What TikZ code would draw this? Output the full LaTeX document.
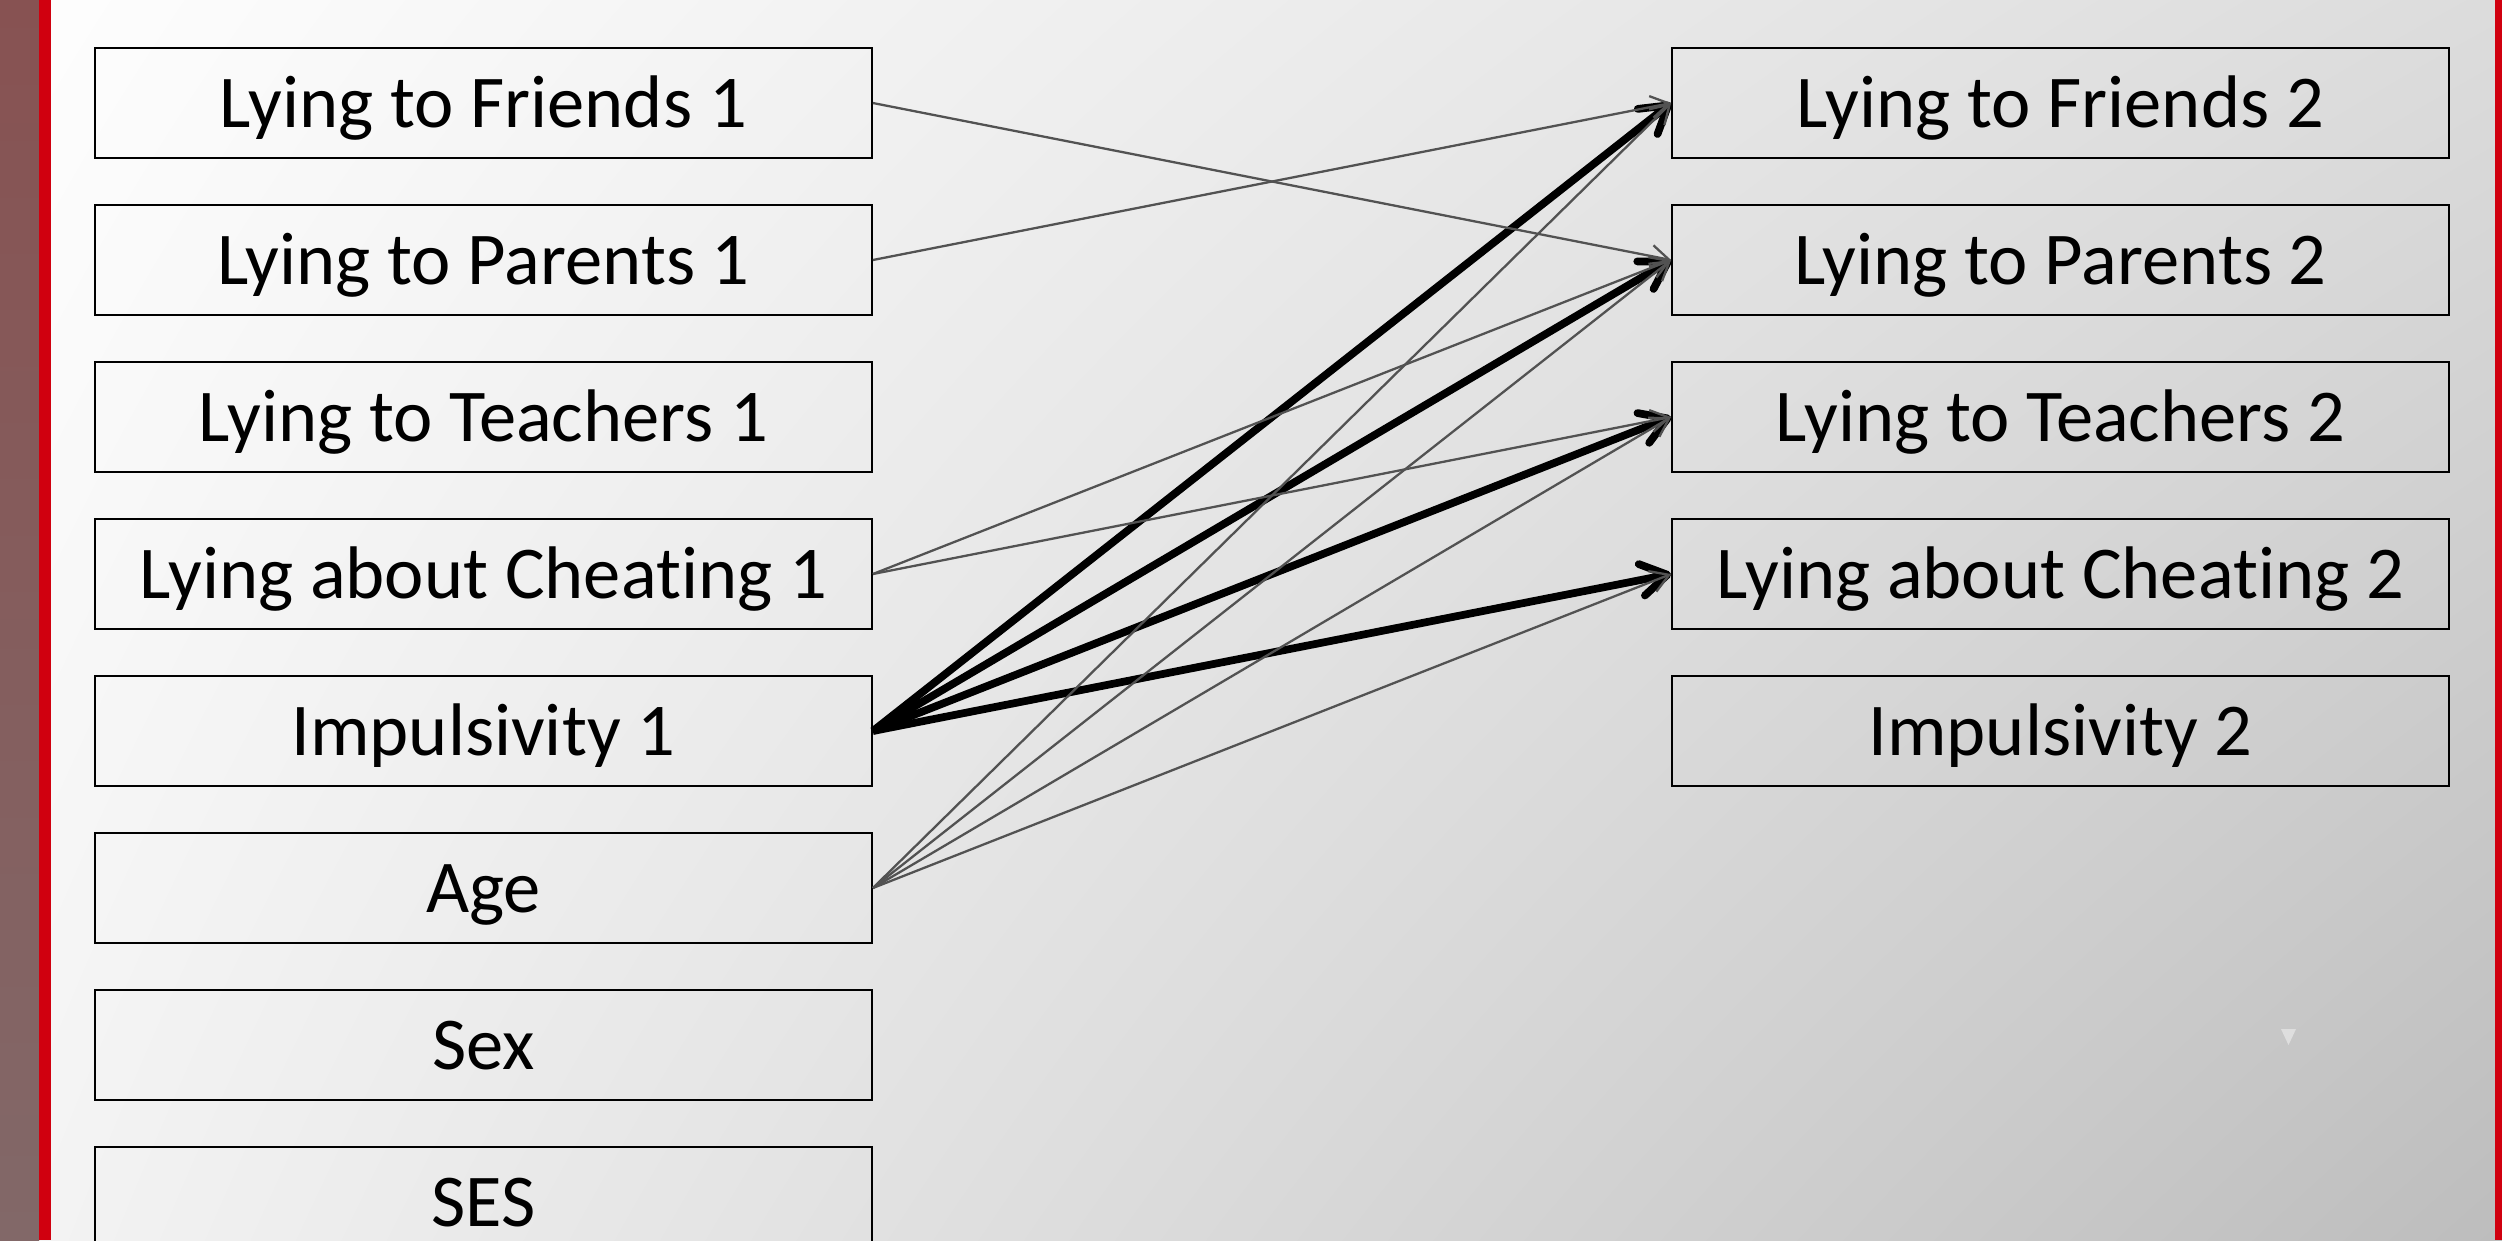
\documentclass[tikz,border=0pt]{standalone}
\usepackage{fontspec}
\setmainfont{Carlito}[Ligatures=NoCommon]
\usepackage{tikz}
\usetikzlibrary{arrows.meta,shadings}

\definecolor{bgul}{RGB}{254,254,254}
\definecolor{bgur}{RGB}{220,220,220}
\definecolor{bgll}{RGB}{244,244,244}
\definecolor{bglr}{RGB}{189,189,189}
\definecolor{stripTop}{RGB}{135,82,82}
\definecolor{stripBot}{RGB}{130,104,104}
\definecolor{barRed}{RGB}{208,0,15}
\definecolor{tri}{RGB}{222,222,222}

\begin{document}
\begin{tikzpicture}[
	box/.style={draw=black, line width=0.5pt, minimum width=7.77cm, minimum height=1.10cm,
		inner sep=0pt, text height=0.48cm, text depth=0pt, font=\fontsize{21.2}{25}\selectfont},
	weak/.style={draw=black!68, line width=0.65pt, -{Straight Barb[length=1.8mm,width=2.2mm]}},
	strong/.style={draw=black, line width=2.2pt, -{Straight Barb[length=2.6mm,width=3.2mm,round]}}]
				\useasboundingbox (0,0) rectangle (25.02,-12.40);
				% background and side bars
				\shade[upper left=bgul, upper right=bgur, lower left=bgll, lower right=bglr] (0,0) rectangle (25.02,-12.40);
				\shade[top color=stripTop, bottom color=stripBot] (0,0) rectangle (0.39,-12.40);
				\fill[barRed] (0.39,0) rectangle (0.51,-12.40);
				\fill[barRed] (24.95,0) rectangle (25.02,-12.40);
				\fill[tri] (22.81,-10.29) -- (22.96,-10.29) -- (22.885,-10.45) -- cycle;
				% time 1
				\node[box] (fr1) at(4.835,-1.03){Lying to Friends 1};
				\node[box] (pa1) at(4.835,-2.60){Lying to Parents 1};
				\node[box] (te1) at(4.835,-4.17){Lying to Teachers 1};
				\node[box] (ch1) at(4.835,-5.74){Lying about Cheating 1};
				\node[box] (im1) at(4.835,-7.31){Impulsivity 1};
				\node[box] (age) at(4.835,-8.88){Age};
				\node[box] (sex) at(4.835,-10.45){Sex};
				\node[box] (ses) at(4.835,-12.02){SES};
				% time 2
				\node[box] (fr2) at(20.605,-1.03){Lying to Friends 2};
				\node[box] (pa2) at(20.605,-2.60){Lying to Parents 2};
				\node[box] (te2) at(20.605,-4.17){Lying to Teachers 2};
				\node[box] (ch2) at(20.605,-5.74){Lying about Cheating 2};
				\node[box] (im2) at(20.605,-7.31){Impulsivity 2};
				% paths
				\draw[strong] (im1.east) -- (fr2.west);
				\draw[strong] (im1.east) -- (pa2.west);
				\draw[strong] (im1.east) -- (te2.west);
				\draw[strong] (im1.east) -- (ch2.west);
				\draw[weak] (fr1.east) -- (pa2.west);
				\draw[weak] (pa1.east) -- (fr2.west);
				\draw[weak] (ch1.east) -- (pa2.west);
				\draw[weak] (ch1.east) -- (te2.west);
				\draw[weak] (age.east) -- (fr2.west);
				\draw[weak] (age.east) -- (pa2.west);
				\draw[weak] (age.east) -- (te2.west);
				\draw[weak] (age.east) -- (ch2.west);
\end{tikzpicture}
\end{document}
